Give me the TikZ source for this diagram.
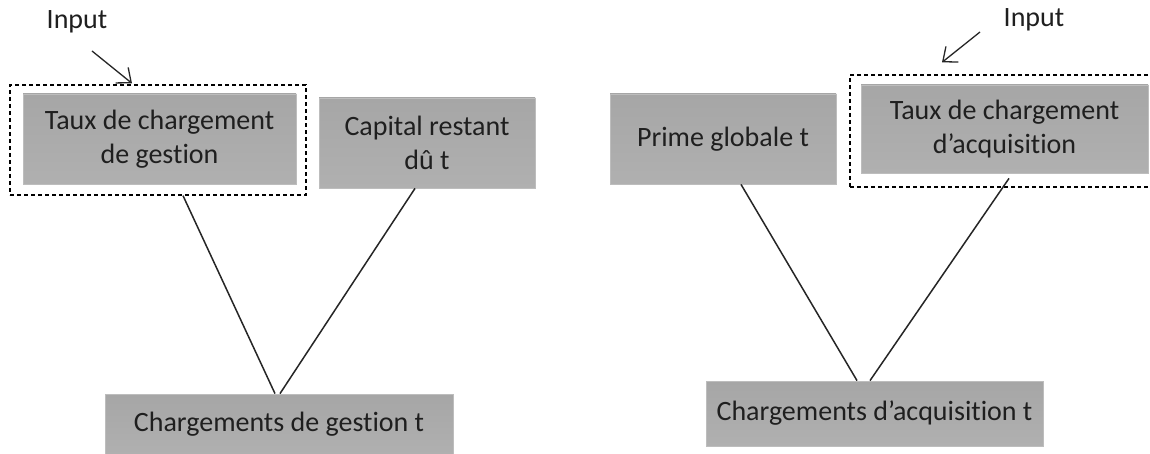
\documentclass[tikz,border=0pt]{standalone}
\usepackage{fontspec}
\setmainfont[Ligatures=NoCommon]{Carlito}
\usetikzlibrary{arrows.meta}
\definecolor{boxgray}{HTML}{A6A6A6}
\definecolor{boxgraylow}{HTML}{B0B0B0}
\definecolor{boxedge}{HTML}{BDBDBD}
\definecolor{ink}{HTML}{1F1F1F}
\tikzset{
  every node/.style={font=\fontsize{28}{34}\selectfont, text=ink},
  graybox/.style={rectangle, inner sep=0pt, align=center,
    top color=boxgray, bottom color=boxgraylow, draw=boxedge, line width=0.8pt},
  inputframe/.style={rectangle, inner sep=0pt, draw=black, line width=1.3pt,
    dash pattern=on 4pt off 3pt},
  link/.style={draw=black!85, line width=1.5pt},
  pointer/.style={draw=black!85, line width=1.3pt,
    -{Straight Barb[length=12pt,width=20pt,line width=1.3pt]}},
  inputlabel/.style={inner sep=0pt}
}
\begin{document}
\begin{tikzpicture}[x=1pt,y=-1pt]
  \clip (0,0) rectangle (1150,454);
  \fill[white] (0,0) rectangle (1150,454);

  % ---- charges de gestion ----
  \node[inputframe, minimum width=296pt, minimum height=110pt] (frameG) at (158,140) {};
  \node[graybox, minimum width=273pt, minimum height=90pt] (tauxG) at (159.5,139)
    {Taux de chargement\\de gestion};
  \node[graybox, minimum width=216pt, minimum height=90pt] (capital) at (427,143)
    {Capital restant\\dû t};
  \node[graybox, minimum width=348pt, minimum height=60pt] (chargG) at (279,424)
    {Chargements de gestion t};
  \node[inputlabel] (inG) at (77,22) {Input};
  \coordinate (inGtail) at (92,51);
  \draw[pointer] (inGtail) -- ([xshift=-26pt,yshift=1pt]frameG.north);

  \draw[link] ([xshift=25pt]frameG.south) -- ([xshift=-4pt]chargG.north);
  \draw[link] ([xshift=-12pt]capital.south) -- ([xshift=1pt]chargG.north);

  % ---- charges d'acquisition ----
  \node[inputframe, minimum width=310pt, minimum height=112pt] (frameA) at (1005,131) {};
  \node[graybox, minimum width=226pt, minimum height=90pt] (prime) at (723,139)
    {Prime globale t};
  \node[graybox, minimum width=287pt, minimum height=88pt] (tauxA) at (1004.5,129)
    {Taux de chargement\\d’acquisition};
  \node[graybox, minimum width=337pt, minimum height=65pt] (chargA) at (874.5,413.5)
    {Chargements d’acquisition t};
  \node[inputlabel] (inA) at (1034,20) {Input};
  \coordinate (inAtail) at (980,32);
  \draw[pointer] (inAtail) -- ([xshift=-63pt,yshift=12pt]frameA.north);

  \draw[link] ([xshift=18pt]prime.south) -- ([xshift=-17.5pt]chargA.north);
  \draw[link] ([xshift=4.5pt,yshift=-5pt]tauxA.south) -- ([xshift=-4.5pt]chargA.north);
\end{tikzpicture}
\end{document}
